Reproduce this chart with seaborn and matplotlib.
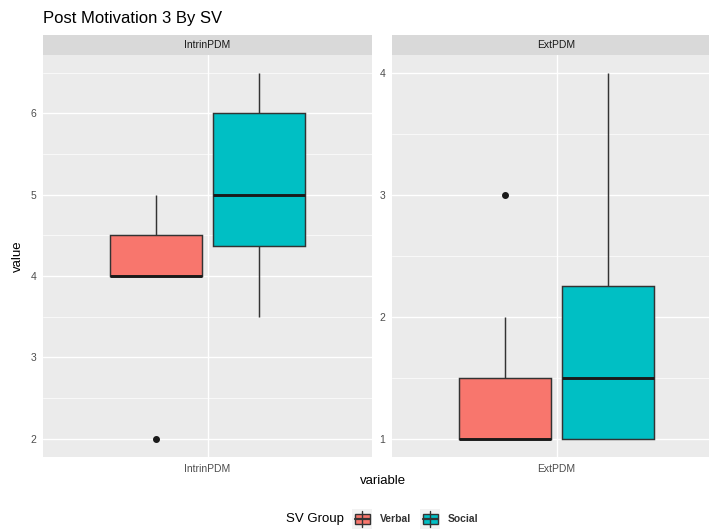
import numpy as np
import pandas as pd
import matplotlib
matplotlib.use("Agg")
import matplotlib.pyplot as plt
import seaborn as sns
from matplotlib.patches import Rectangle
from matplotlib.lines import Line2D
from matplotlib.ticker import MultipleLocator, FixedLocator

# ---- data ----
variables = ["IntrinPDM", "ExtPDM"]
groups = ["Verbal", "Social"]
verbal_intrin = [2, 4, 4, 4, 4, 4, 4.5, 4.5, 5]
social_intrin = [3.5, 4, 4.5, 5, 5, 6, 6, 6.5]
verbal_ext = [1, 1, 1, 1, 1, 1, 1.5, 2, 3]
social_ext = [1, 1, 1, 1.5, 1.5, 2, 3, 4]
yticks_intrin = [2, 3, 4, 5, 6]
yticks_ext = [1, 2, 3, 4]
title = "Post Motivation 3 By SV"
legend_title = "SV Group"
colors = {"Verbal": "#F8766D", "Social": "#00BFC4"}

rows = []
for var, g, vals in [("IntrinPDM", "Verbal", verbal_intrin), ("IntrinPDM", "Social", social_intrin),
                     ("ExtPDM", "Verbal", verbal_ext), ("ExtPDM", "Social", social_ext)]:
    for v in vals:
        rows.append({"variable": var, "group": g, "value": v})
df = pd.DataFrame(rows)

sns.set_theme(style="darkgrid")
plt.rcParams["font.family"] = ["Liberation Sans", "DejaVu Sans"]

W, H = 709, 529
fig = plt.figure(figsize=(W / 100, H / 100), dpi=100)
fig.patch.set_facecolor("white")

panel_top, panel_bot = 54.5, 457
strip_top = 35
lefts = [43, 392]
pw = 329

def fx(px):
    return px / W

def fy(py):
    return 1 - py / H

for i, var in enumerate(variables):
    ax = fig.add_axes([fx(lefts[i]), fy(panel_bot), pw / W, (panel_bot - panel_top) / H])
    sub = df[df["variable"] == var]
    sns.boxplot(data=sub, x="variable", y="value", hue="group", hue_order=groups,
                palette=colors, width=0.75, gap=0.1, linecolor="#333333", linewidth=1.05,
                saturation=1, showcaps=False, fliersize=4.0,
                flierprops=dict(marker="o", markerfacecolor="#1A1A1A", markeredgecolor="#1A1A1A"),
                medianprops=dict(linewidth=2.1, color="#1A1A1A"),
                legend=False, ax=ax)
    ax.set_facecolor("#EBEBEB")
    for s in ax.spines.values():
        s.set_visible(False)
    ax.set_xlim(-0.6, 0.6)
    vmin, vmax = sub["value"].min(), sub["value"].max()
    pad = (vmax - vmin) * 0.05
    ax.set_ylim(vmin - pad, vmax + pad)
    ticks = yticks_intrin if var == "IntrinPDM" else yticks_ext
    ax.yaxis.set_major_locator(FixedLocator(ticks))
    ax.yaxis.set_minor_locator(MultipleLocator(0.5))
    ax.set_axisbelow(True)
    ax.grid(False)
    ax.yaxis.grid(True, which="major", color="white", linewidth=1.0)
    ax.yaxis.grid(True, which="minor", color="white", linewidth=0.5)
    ax.xaxis.grid(True, which="major", color="white", linewidth=1.0)
    ax.tick_params(which="major", length=2.75, width=0.6, color="#333333",
                   labelsize=7.5, labelcolor="#4D4D4D", pad=2)
    ax.tick_params(which="minor", length=0)
    ax.set_xlabel("")
    ax.set_ylabel("")
    # strip
    sax = fig.add_axes([fx(lefts[i]), fy(panel_top), pw / W, (panel_top - strip_top) / H])
    sax.set_facecolor("#D9D9D9")
    sax.set_xticks([])
    sax.set_yticks([])
    sax.grid(False)
    for s in sax.spines.values():
        s.set_visible(False)
    sax.text(0.5, 0.5, var, ha="center", va="center", fontsize=7.5, color="#1A1A1A",
             transform=sax.transAxes)

fig.text(fx(43), fy(19), title, ha="left", va="center", fontsize=12, color="black")
fig.text(fx(18), fy((panel_top + panel_bot) / 2), "value", rotation=90, ha="center",
         va="center", fontsize=9.5, color="black")
fig.text(fx(383), fy(481), "variable", ha="center", va="center", fontsize=9.5, color="black")

# legend
lax = fig.add_axes([0, 0, 1, 1])
lax.set_xlim(0, W)
lax.set_ylim(H, 0)
lax.axis("off")
lax.patch.set_alpha(0)
cy = 519
lax.text(286, cy, legend_title, ha="left", va="center", fontsize=9.5, color="black")
key_x = {"Verbal": 352, "Social": 420}
for g in groups:
    x0 = key_x[g]
    ks = 20
    y0 = cy - ks / 2
    lax.add_patch(Rectangle((x0, y0), ks, ks, facecolor="#F2F2F2", edgecolor="none"))
    lax.add_line(Line2D([x0 + ks / 2, x0 + ks / 2], [y0 + 0.1 * ks, y0 + 0.9 * ks],
                        color="#333333", lw=1.0))
    lax.add_patch(Rectangle((x0 + 0.125 * ks, y0 + 0.25 * ks), 0.75 * ks, 0.5 * ks,
                            facecolor=colors[g], edgecolor="#333333", lw=1.0))
    lax.add_line(Line2D([x0 + 0.125 * ks, x0 + 0.875 * ks], [cy, cy],
                        color="#333333", lw=1.6))
    lax.text(x0 + ks + 8, cy, g, ha="left", va="center", fontsize=7.5,
             fontweight="bold", color="#333333")

fig.savefig("out.png", dpi=100)
